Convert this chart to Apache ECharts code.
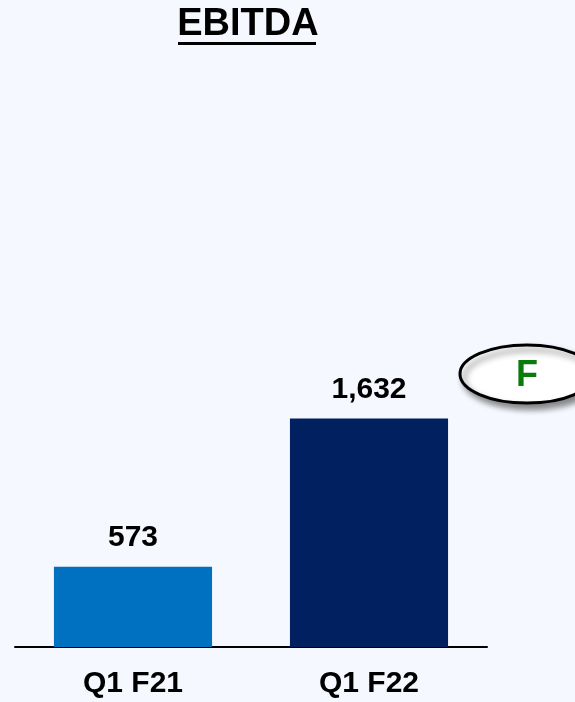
<!DOCTYPE html>
<html>
<head>
<meta charset="utf-8">
<script src="https://cdn.jsdelivr.net/npm/echarts@6/dist/echarts.min.js"></script>
<style>
  html, body { margin: 0; padding: 0; background: #f5f8fe; }
  #chart { width: 575px; height: 702px; }
</style>
</head>
<body>
<div id="chart"></div>
<script>
// data
const categories = ['Q1 F21', 'Q1 F22']
const ebitda = [573, 1632]
const barColors = ['#0070c0', '#002060']

const chart = echarts.init(document.getElementById('chart'))

const font = '"Liberation Sans", Arial, sans-serif'

const options = {
  backgroundColor: '#f5f8fe',
  animation: false,
  grid: { left: 15, right: 88, top: 87, bottom: 55 },
  xAxis: {
    type: 'category',
    data: categories,
    axisTick: { show: false },
    axisLine: { lineStyle: { color: '#000', width: 2 } },
    axisLabel: {
      margin: 22,
      fontFamily: font,
      fontSize: 30,
      fontWeight: 'bold',
      color: '#000'
    }
  },
  yAxis: {
    type: 'value',
    min: 0,
    max: 4000,
    show: false,
    splitLine: { show: false }
  },
  series: [
    {
      type: 'bar',
      barWidth: '67%',
      data: ebitda.map((v, i) => ({ value: v, itemStyle: { color: barColors[i] } })),
      label: {
        show: true,
        position: 'top',
        distance: 14,
        fontFamily: font,
        fontSize: 30,
        fontWeight: 'bold',
        color: '#000',
        formatter: p => p.value.toLocaleString('en-US')
      }
    }
  ],
  graphic: [
    // title + underline
    {
      type: 'text',
      x: 248,
      y: 25,
      style: {
        text: 'EBITDA',
        fontFamily: font,
        fontSize: 38,
        fontWeight: 'bold',
        fill: '#000',
        align: 'center',
        verticalAlign: 'middle'
      }
    },
    { type: 'rect', shape: { x: 178, y: 42, width: 138, height: 3 }, style: { fill: '#000' } },
    // "F" badge
    {
      type: 'ellipse',
      shape: { cx: 527, cy: 374, rx: 67, ry: 29 },
      style: {
        fill: '#fff',
        stroke: '#000',
        lineWidth: 3,
        shadowBlur: 6,
        shadowOffsetX: 4,
        shadowOffsetY: 5,
        shadowColor: 'rgba(0,0,0,0.45)'
      }
    },
    {
      type: 'text',
      x: 527,
      y: 376,
      style: {
        text: 'F',
        fontFamily: font,
        fontSize: 36,
        fontWeight: 'bold',
        fill: '#0a7a0a',
        align: 'center',
        verticalAlign: 'middle'
      }
    }
  ]
}

chart.setOption(options)
</script>
</body>
</html>
